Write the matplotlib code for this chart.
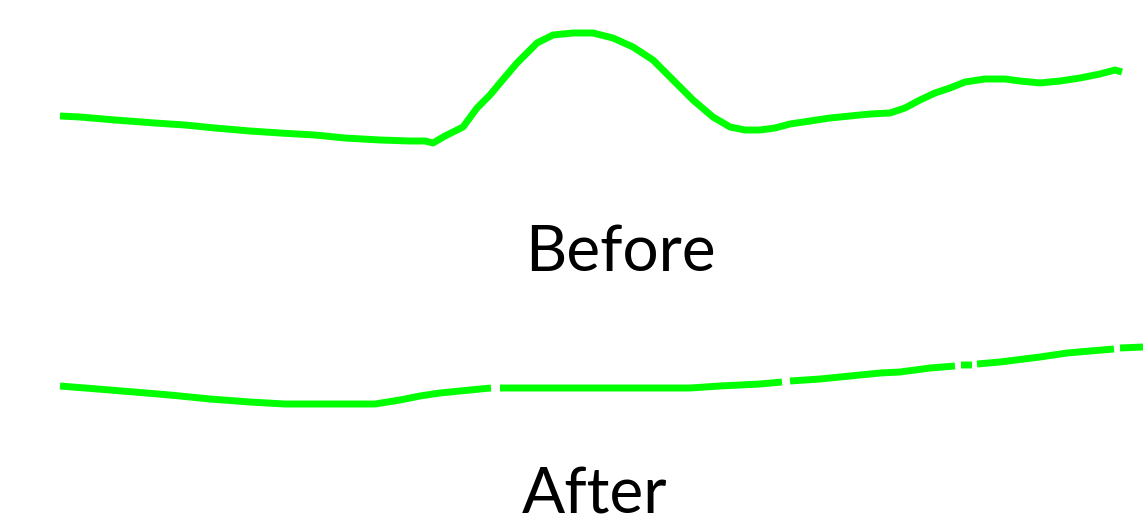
import numpy as np
import matplotlib
matplotlib.use('Agg')
import matplotlib.pyplot as plt

# Traced curves (x along the width, y measured from the top)
before_x = [60, 80, 115, 155, 185, 215, 250, 280, 315, 345, 380, 410, 425, 433,
            445, 463, 477, 490, 500, 517, 537, 553, 573, 593, 613, 633, 653,
            673, 693, 713, 730, 745, 760, 775, 790, 810, 830, 850, 870, 890,
            905, 920, 935, 950, 965, 985, 1005, 1020, 1040, 1060, 1080, 1100,
            1115, 1122]
before_y = [116, 117, 120, 123, 125, 128, 131, 133, 135, 138, 140, 141, 141, 143,
            136, 127, 108, 95, 83, 63, 43, 35, 33, 33, 38, 47, 60,
            80, 100, 117, 127, 130, 130, 128, 124, 121, 118, 116, 114, 113,
            108, 100, 93, 88, 82, 79, 79, 81, 83, 81, 78, 74,
            70, 72]

after_x = [60, 110, 170, 210, 250, 285, 330, 375, 400, 420, 440, 460, 480, 491,
           495, 500, 540, 600, 690, 720, 760, 782, 786, 790, 820, 850, 880, 900,
           930, 955, 958, 961, 972, 974, 977, 1000, 1040, 1067, 1090, 1114,
           1117, 1120, 1143]
after_y = [386, 390, 395, 399, 402, 404, 404, 404, 400, 396, 393, 391, 389, 388,
           np.nan, 388, 388, 388, 388, 386, 384, 382, np.nan, 381, 379, 376, 373, 372,
           368, 366, np.nan, 365, 365, np.nan, 364, 362, 357, 353, 351, 349,
           np.nan, 348, 347]

labels = ['Before', 'After']
label_x = [620, 595]
label_y = [253, 495]

fig = plt.figure(figsize=(11.43, 5.28), dpi=100)
ax = fig.add_axes([0, 0, 1, 1])
ax.set_xlim(0, 1143)
ax.set_ylim(528, 0)
ax.axis('off')

ax.plot(before_x, before_y, color='#00ff00', linewidth=5, solid_capstyle='butt')
ax.plot(after_x, after_y, color='#00ff00', linewidth=5, solid_capstyle='butt')

for txt, x, y in zip(labels, label_x, label_y):
    ax.text(x, y, txt, family=['Lato', 'DejaVu Sans'], fontsize=46,
            ha='center', va='center', color='black')

fig.savefig('out.png', dpi=100, facecolor='white')
